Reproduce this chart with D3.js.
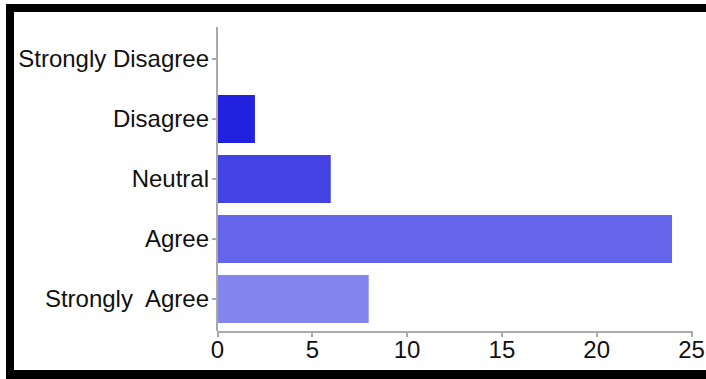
<!DOCTYPE html>
<html>
<head>
<meta charset="utf-8">
<script src="https://cdn.jsdelivr.net/npm/d3@7"></script>
<style>
  html, body { margin: 0; padding: 0; background: #fff; }
  svg { display: block; }
  .axis text { font-family: "Liberation Sans", Arial, sans-serif; font-size: 24px; fill: #111; }
  .axis path, .axis line { stroke: #aaa; stroke-width: 2px; shape-rendering: crispEdges; }
</style>
</head>
<body>
<svg id="chart" width="706" height="379"></svg>
<script>
// Survey responses
const categories = ["Strongly Disagree", "Disagree", "Neutral", "Agree", "Strongly  Agree"];
const counts = [0, 2, 6, 24, 8];
const barColors = ["#1f1fdf", "#2121df", "#4343e3", "#6565e9", "#8585ee"];
const xTicks = [0, 5, 10, 15, 20, 25];

const svg = d3.select("#chart");
const W = 706, H = 379;

const plot = { left: 217, right: 691, top: 27, bottom: 331 };

const x = d3.scaleLinear().domain([0, 25]).range([plot.left, plot.right]);
const y = d3.scaleBand()
  .domain(categories)
  .range([plot.top, plot.bottom])
  .paddingInner(0.2)
  .paddingOuter(0.1333);

// Frame
svg.append("rect").attr("x", 6).attr("y", 4).attr("width", W - 6).attr("height", 8).attr("fill", "#000");
svg.append("rect").attr("x", 6).attr("y", 4).attr("width", 8).attr("height", H - 4).attr("fill", "#000");
svg.append("rect").attr("x", 6).attr("y", 370).attr("width", W - 6).attr("height", 9).attr("fill", "#000");

// Bars
svg.append("g")
  .selectAll("rect")
  .data(categories.map((c, i) => ({ c, v: counts[i], col: barColors[i] })))
  .join("rect")
  .attr("x", x(0))
  .attr("y", d => y(d.c))
  .attr("width", d => x(d.v) - x(0))
  .attr("height", y.bandwidth())
  .attr("fill", d => d.col);

// X axis
const gx = svg.append("g")
  .attr("class", "axis")
  .attr("transform", `translate(0,${plot.bottom})`)
  .call(d3.axisBottom(x).tickValues(xTicks).tickFormat(d3.format("d")).tickSize(6).tickSizeOuter(0).tickPadding(4));

// Y axis
const gy = svg.append("g")
  .attr("class", "axis")
  .attr("transform", `translate(${plot.left},0)`)
  .call(d3.axisLeft(y).tickSize(5).tickSizeOuter(0).tickPadding(3));
gy.select(".domain").attr("d", `M0,${plot.top}V${plot.bottom}`);
gy.selectAll("text").style("white-space", "pre").attr("xml:space", "preserve");
</script>
</body>
</html>
